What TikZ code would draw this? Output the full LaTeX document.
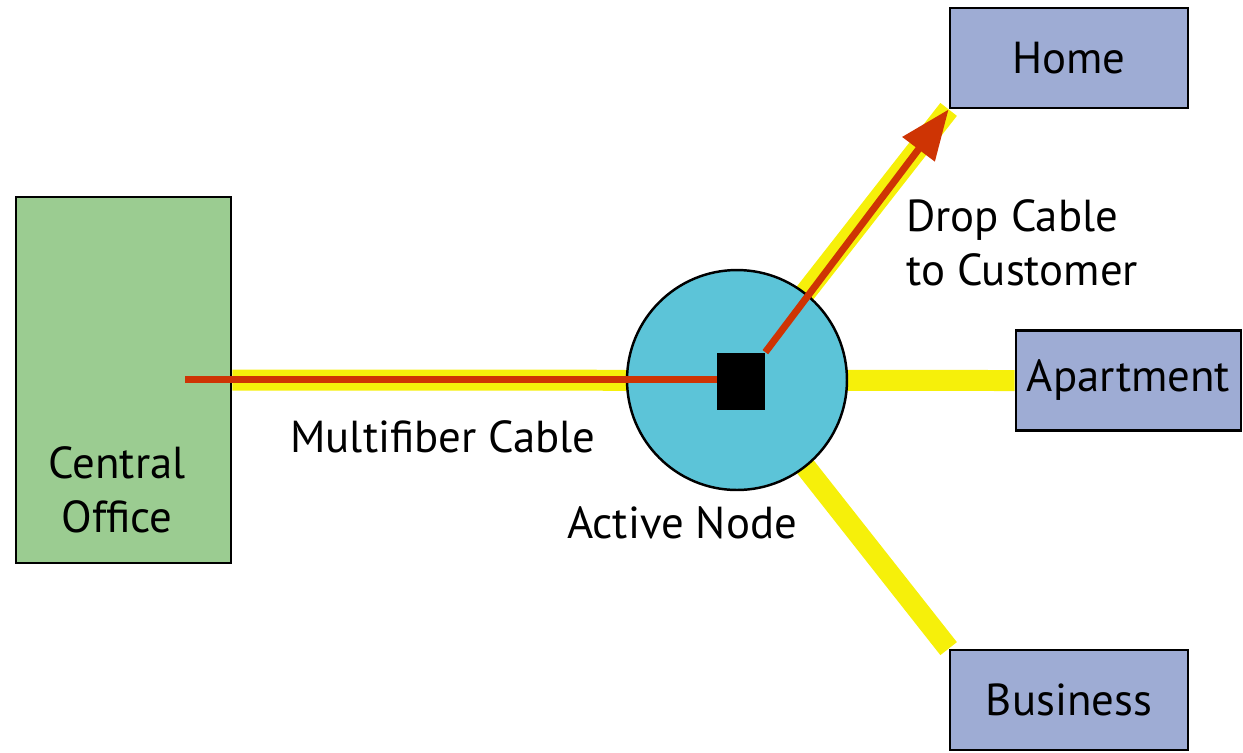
\documentclass[tikz,border=0pt]{standalone}
\usepackage{fontspec}
\setmainfont{PT Sans}
\usetikzlibrary{positioning, arrows.meta}
\usepackage{xcolor}
\pgfdeclarelayer{bg}
\pgfsetlayers{bg,main}

\definecolor{officegreen}{RGB}{155,204,145}
\definecolor{sitesblue}{RGB}{158,172,212}
\definecolor{nodecyan}{RGB}{92,196,216}
\definecolor{cableyellow}{RGB}{246,240,10}
\definecolor{fiberred}{RGB}{206,52,4}

\tikzset{
  sitebox/.style={rectangle, draw=black, line width=1.6pt, fill=sitesblue, minimum width=4.76cm, minimum height=2cm, inner sep=0pt},
  cable/.style={cableyellow, line width=0.42cm},
  fiber/.style={fiberred, line width=0.14cm},
  lbl/.style={inner sep=0pt}
}

\begin{document}
\begin{tikzpicture}[x=0.02cm, y=-0.02cm, font=\fontsize{25.5}{30.5}\selectfont]
\useasboundingbox (0,0) rectangle (1243,752);

%help grid and labels
%\draw[help lines, step=50] (0,0) grid (1243,752);

%%% CENTRAL OFFICE
\node [rectangle, draw=black, line width=1.6pt, fill=officegreen, minimum width=4.3cm, minimum height=7.32cm, inner sep=0pt] (office) at (123.5,380) {};
\node [lbl, align=center] (office-text) at (117,490) {Central\\Office};

%%% ACTIVE NODE
\node [circle, draw=black, line width=1.4pt, fill=nodecyan, minimum size=4.4cm, inner sep=0pt] (active) at (737,380) {};
\node [rectangle, fill=black, minimum width=0.96cm, minimum height=1.14cm, inner sep=0pt] (switch) at (741,381) {};
\node [lbl] (active-text) at (682,523) {Active Node};

%%% CUSTOMERS
\node [sitebox] (home) at (1069,58) {Home};
\node [sitebox, minimum width=4.5cm] (apartment) at (1128.5,380.5) {Apartment};
\node [sitebox] (business) at (1069,700) {Business};

%%% labels
\node [lbl] (multifiber) at (443,437) {Multifiber Cable};
\node [lbl, align=left, anchor=west] (drop) at (906,243) {Drop Cable\\to Customer};

%%% connections, cables
\begin{pgfonlayer}{bg}
\draw [cable] (office.east) -- (apartment.west);
\draw [cable] (active.center) -- (home.south west);
\draw [cable] (active.center) -- (business.north west);
\end{pgfonlayer}

\coordinate (fiber-start) at (185,379);
\draw [fiber] (fiber-start) -- (switch.west |- fiber-start);
\draw [fiber, -{Triangle[length=1cm, width=0.78cm]}] (switch.north east) -- (home.south west);

\end{tikzpicture}
\end{document}
